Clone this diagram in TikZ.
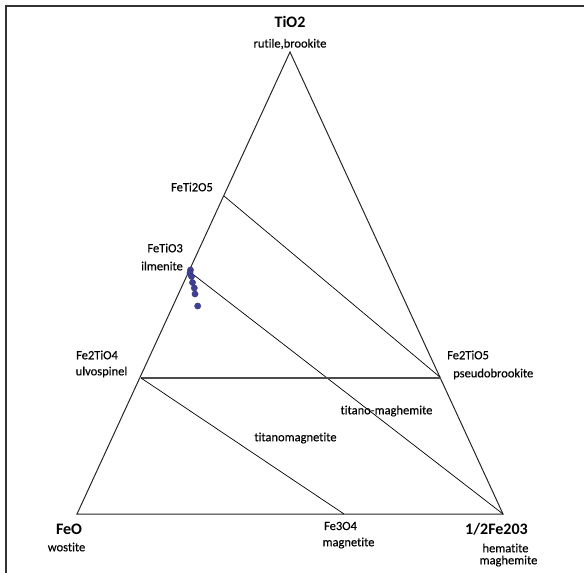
\documentclass[tikz,border=0pt]{standalone}
\usepackage{fontspec}
\setmainfont[Ligatures={NoCommon}]{Carlito}
\newfontfamily\plainlbl[Ligatures={NoCommon},FakeBold=0.35]{Carlito}
\begin{document}
\begin{tikzpicture}[x=1pt,y=-1pt,
  lbl/.style={inner sep=0pt,font=\fontsize{12.5}{14}\selectfont\plainlbl},
  bigl/.style={inner sep=0pt,font=\fontsize{16}{18}\selectfont\bfseries},
  edge/.style={draw=black!85,line width=1pt},
  tie/.style={draw=black,line width=0.7pt},
  dot/.style={circle,fill=dotblue,draw=dotblue!70!black,line width=0.3pt,inner sep=0pt,minimum size=6.3pt}]
\definecolor{dotblue}{HTML}{3F3F9E}
\useasboundingbox (0,0) rectangle (584,573);
% frame
\draw[black!80,line width=1.5pt] (6,573) -- (6,6) -- (584,6);
% vertices and points
\coordinate (T) at (290,52);
\coordinate (F) at (77,514);
\coordinate (H) at (503,514);
\coordinate (FT2) at (224,196);
\coordinate (FT) at (190,272);
\coordinate (U) at (141,378);
\coordinate (P) at (441,378);
\coordinate (M) at (344,514);
% triangle
\draw[edge] (F) -- (T) -- (H) -- cycle;
% tie lines
\draw[tie] (FT2) -- (P);
\draw[tie] (FT) -- (H);
\draw[edge,draw=black!70,line width=1.2pt] (U) -- (P);
\draw[tie] (U) -- (M);
% data points
\foreach \i/\p in {1/{(190.5,270)},2/{(190,273)},3/{(191.5,276.5)},4/{(192.5,282.5)},5/{(194.3,288)},6/{(195,294)},7/{(197.7,306)}}
  \node[dot] (d\i) at \p {};
% labels
\node[bigl] (lT) at (290,22) {TiO2};
\node[lbl] (lTr) at (290,44) {rutile,brookite};
\node[lbl,anchor=east] (lFT2) at (213,187) {FeTi2O5};
\node[lbl,anchor=east] (lFT) at (183,248) {FeTiO3};
\node[lbl,anchor=east] (lFTi) at (183,266) {ilmenite};
\node[lbl] (lU) at (97,355) {Fe2TiO4};
\node[lbl] (lUv) at (101.5,372) {ulvospinel};
\node[lbl,anchor=west] (lP) at (447,355) {Fe2TiO5};
\node[lbl,anchor=west] (lPb) at (453,374) {pseudobrookite};
\node[lbl] (lTM) at (386.5,411) {titano-maghemite};
\node[lbl] (lTMg) at (295.5,438) {titanomagnetite};
\node[bigl] (lF) at (69,529) {FeO};
\node[lbl] (lFw) at (66.5,547) {wostite};
\node[lbl] (lM) at (340.5,526) {Fe3O4};
\node[lbl] (lMm) at (348.5,543) {magnetite};
\node[bigl] (lH) at (496.5,529) {1/2Fe203};
\node[lbl] (lHh) at (505.5,548) {hematite};
\node[lbl] (lHm) at (508.5,561) {maghemite};
\end{tikzpicture}
\end{document}
